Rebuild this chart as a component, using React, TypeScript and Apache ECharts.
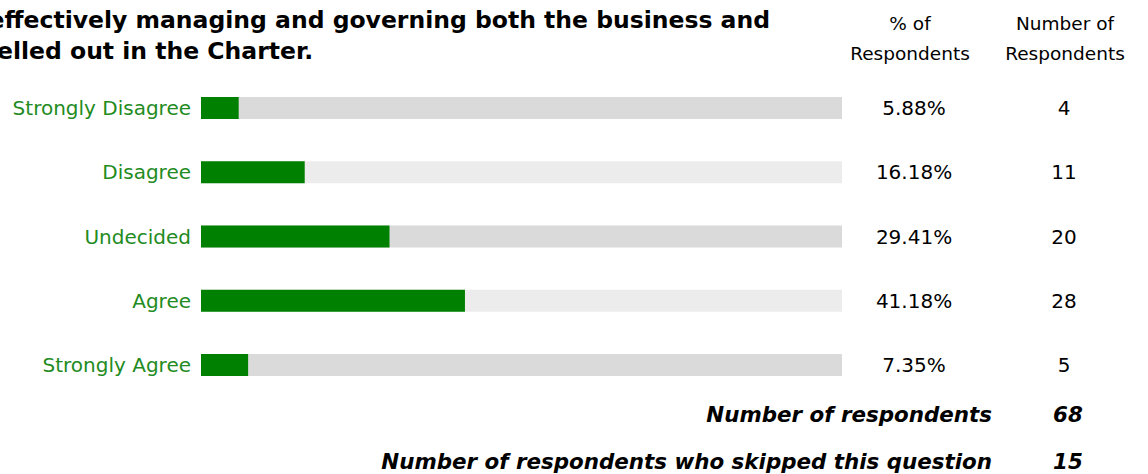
import React, { useEffect, useRef } from "react";
import * as echarts from "echarts";

const categories = ["Strongly Disagree", "Disagree", "Undecided", "Agree", "Strongly Agree"];
const percents = [5.88, 16.18, 29.41, 41.18, 7.35];
const counts = [4, 11, 20, 28, 5];
const trackColors = ["#dadada", "#ececec", "#dadada", "#ececec", "#dadada"];
const titleLines = [
  "effectively managing and governing both the business and",
  "elled out in the Charter.",
];
const totalRespondents = 68;
const skipped = 15;

export default function App() {
  const ref = useRef<HTMLDivElement>(null);
  useEffect(() => {
    document.body.style.margin = "0";
    const chart = echarts.init(ref.current!, null, { renderer: "svg" });
    const font = "DejaVu Sans";
    chart.setOption({
      animation: false,
      grid: { left: 201, width: 641, top: 76, height: 321 },
      xAxis: { type: "value", min: 0, max: 100, show: false },
      yAxis: [
        {
          type: "category",
          data: categories,
          inverse: true,
          axisLine: { show: false },
          axisTick: { show: false },
          axisLabel: { color: "#228b22", fontSize: 20, fontFamily: font, margin: 10 },
        },
        {
          type: "category",
          data: percents.map((p) => p.toFixed(2) + "%"),
          inverse: true,
          position: "right",
          axisLine: { show: false },
          axisTick: { show: false },
          axisLabel: { color: "#000", fontSize: 20, fontFamily: font, align: "center", margin: 72 },
        },
        {
          type: "category",
          data: counts.map((c) => String(c)),
          inverse: true,
          position: "right",
          offset: 150,
          axisLine: { show: false },
          axisTick: { show: false },
          axisLabel: { color: "#000", fontSize: 20, fontFamily: font, align: "center", margin: 72 },
        },
      ],
      series: [
        {
          type: "bar",
          yAxisIndex: 0,
          barWidth: 22,
          barGap: "-100%",
          silent: true,
          data: categories.map((_, i) => ({ value: 100, itemStyle: { color: trackColors[i] } })),
        },
        {
          type: "bar",
          yAxisIndex: 0,
          barWidth: 22,
          barGap: "-100%",
          itemStyle: { color: "#008000" },
          data: percents,
        },
      ],
      graphic: [
        {
          type: "text",
          right: 1148 - 770,
          top: 8,
          style: { text: titleLines[0], font: `bold 23.5px "${font}"`, fill: "#000" },
        },
        {
          type: "text",
          left: -3,
          top: 39,
          style: { text: titleLines[1], font: `bold 23.5px "${font}"`, fill: "#000" },
        },
        {
          type: "text",
          x: 910,
          y: 8,
          style: { text: "% of\nRespondents", font: `18.5px "${font}"`, fill: "#000", align: "center", lineHeight: 30 },
        },
        {
          type: "text",
          x: 1065,
          y: 8,
          style: { text: "Number of\nRespondents", font: `18.5px "${font}"`, fill: "#000", align: "center", lineHeight: 30 },
        },
        {
          type: "text",
          x: 992,
          y: 414,
          style: { text: "Number of respondents", font: `italic bold 21.4px "${font}"`, fill: "#000", align: "right", verticalAlign: "middle" },
        },
        {
          type: "text",
          x: 1068,
          y: 414,
          style: { text: String(totalRespondents), font: `italic bold 21.4px "${font}"`, fill: "#000", align: "center", verticalAlign: "middle" },
        },
        {
          type: "text",
          x: 992,
          y: 461,
          style: { text: "Number of respondents who skipped this question", font: `italic bold 21.4px "${font}"`, fill: "#000", align: "right", verticalAlign: "middle" },
        },
        {
          type: "text",
          x: 1068,
          y: 461,
          style: { text: String(skipped), font: `italic bold 21.4px "${font}"`, fill: "#000", align: "center", verticalAlign: "middle" },
        },
      ],
    });
    return () => chart.dispose();
  }, []);
  return <div ref={ref} style={{ width: 1148, height: 474 }} />;
}
